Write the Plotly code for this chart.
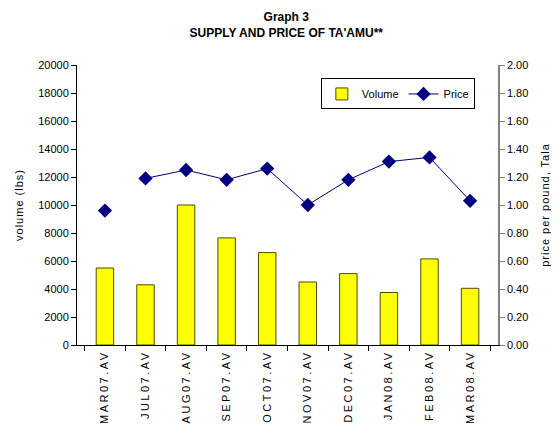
import plotly.graph_objects as go

categories = ["MAR07.AV", "JUL07.AV", "AUG07.AV", "SEP07.AV", "OCT07.AV",
              "NOV07.AV", "DEC07.AV", "JAN08.AV", "FEB08.AV", "MAR08.AV"]
volume = [5500, 4300, 10000, 7650, 6600, 4500, 5100, 3750, 6150, 4050]
price = [0.96, 1.19, 1.25, 1.18, 1.26, 1.00, 1.18, 1.31, 1.34, 1.03]
y1_ticks = list(range(0, 20001, 2000))
y2_ticks = [i / 10 for i in range(0, 21, 2)]

fig = go.Figure()
fig.add_trace(go.Bar(
    x=categories, y=volume, name="Volume", width=0.43,
    marker=dict(color="#FFFF00", line=dict(color="#4d4d00", width=1)),
))
# first point stands alone (not joined to the rest)
fig.add_trace(go.Scatter(
    x=categories[:1], y=price[:1], name="Price", yaxis="y2", mode="markers",
    marker=dict(symbol="diamond", size=11, color="#000080"),
    showlegend=False,
))
fig.add_trace(go.Scatter(
    x=categories[1:], y=price[1:], name="Price", yaxis="y2", mode="lines+markers",
    line=dict(color="#000080", width=1),
    marker=dict(symbol="diamond", size=11, color="#000080"),
))

def spaced(t, px=2):
    return f'<span style="letter-spacing:{px}px">{t}</span>'

font_main = "Liberation Sans, Arial, sans-serif"
fig.update_layout(
    width=551, height=419,
    margin=dict(l=69, r=61, t=57, b=82),
    paper_bgcolor="white", plot_bgcolor="white",
    font=dict(family=font_main, size=11, color="black"),
    title=dict(
        text="Graph 3<br>SUPPLY AND PRICE OF TA'AMU**",
        x=0.505, xanchor="center", y=0.968, yanchor="top",
        font=dict(family="Liberation Sans Narrow, Arial Narrow, Liberation Sans, sans-serif",
                  size=12, color="black", weight="bold"),
    ),
    showlegend=True,
    legend=dict(
        orientation="h", x=0.945, y=0.952, xanchor="right", yanchor="top",
        bordercolor="black", borderwidth=1, bgcolor="white",
        font=dict(size=11), itemwidth=30, tracegroupgap=0,
    ),
    xaxis=dict(
        type="category", tickangle=-90, tickson="boundaries",
        tickvals=categories, ticktext=[spaced(c, 2.5) for c in categories],
        ticks="outside", ticklen=5, tickcolor="black",
        showline=True, linecolor="black", linewidth=1,
        tickfont=dict(size=11), automargin=False, showgrid=False,
    ),
    yaxis=dict(
        range=[0, 20000], tickvals=y1_ticks, ticktext=[str(v) for v in y1_ticks],
        ticks="outside", ticklen=5, tickcolor="black",
        showline=True, linecolor="black", linewidth=1, showgrid=False, zeroline=False,
        title=dict(text=spaced("volume (lbs)", 1), font=dict(size=11), standoff=12),
        automargin=False,
    ),
    yaxis2=dict(
        range=[0, 2.0], overlaying="y", side="right",
        tickvals=y2_ticks, ticktext=[f"{v:.2f}" for v in y2_ticks],
        ticks="outside", ticklen=5, tickcolor="#808080",
        showline=True, linecolor="#808080", linewidth=1.5, showgrid=False, zeroline=False,
        title=dict(text=spaced("price per pound, Tala", 1), font=dict(size=11), standoff=14),
        automargin=False,
    ),
)

fig.write_html("out.html")
